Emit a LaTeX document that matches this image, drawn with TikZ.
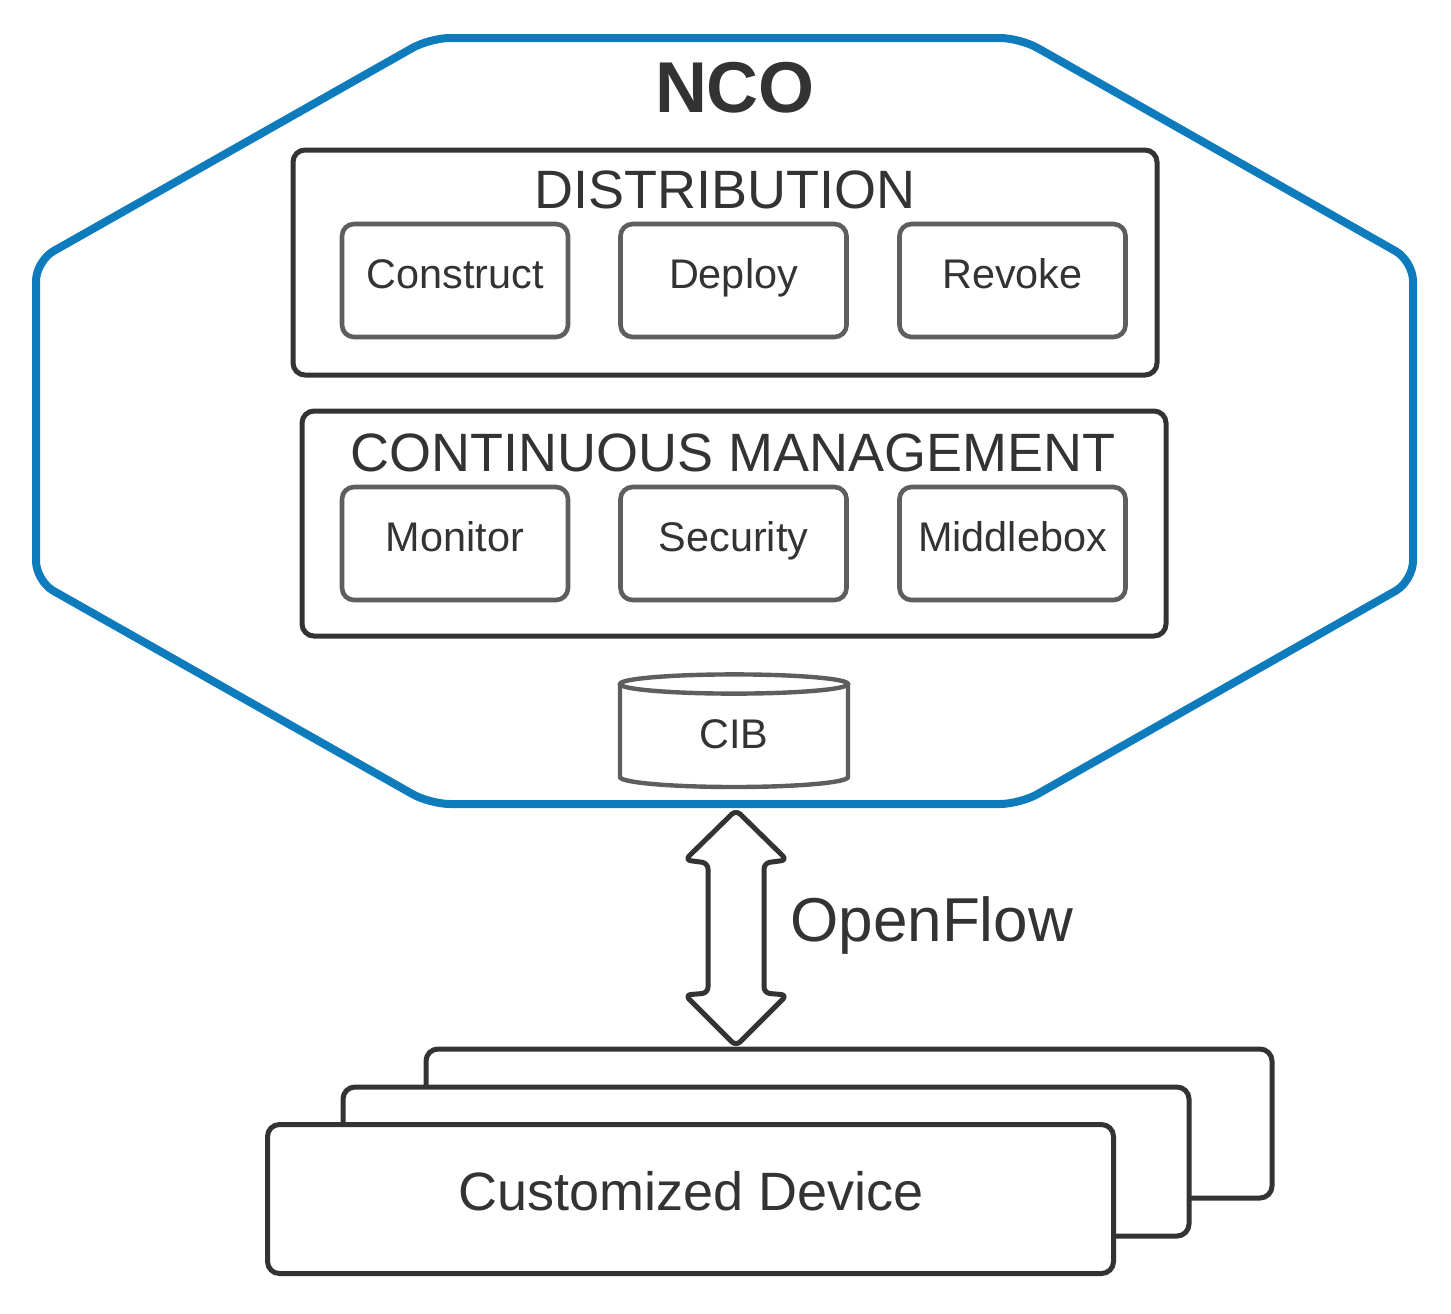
\documentclass[tikz,border=0pt]{standalone}
\usepackage{fontspec}
\setmainfont{Liberation Sans}
\definecolor{ncoblue}{HTML}{0E7CBC}
\definecolor{dk}{HTML}{333333}
\definecolor{gr}{HTML}{5E5E5E}
\begin{document}
\begin{tikzpicture}[x=0.5pt,y=-0.5pt,
  outerbox/.style={draw=dk,line width=2.5pt,rounded corners=6pt,fill=white,minimum width=432pt,minimum height=112.5pt,inner sep=0pt},
  innerbox/.style={draw=gr,line width=2.3pt,rounded corners=6pt,fill=white,minimum width=113pt,minimum height=56.5pt,inner sep=0pt},
  devbox/.style={draw=dk,line width=2.5pt,rounded corners=6pt,fill=white,minimum width=423pt,minimum height=74.5pt,inner sep=0pt},
  lbl/.style={anchor=base,inner sep=0pt,text=dk},
  small/.style={lbl,font=\fontsize{20.7}{24}\selectfont},
  big/.style={lbl,font=\fontsize{27}{30}\selectfont}]
\useasboundingbox (0,0) rectangle (1451,1313);
% NCO octagon
\draw[ncoblue,line width=4pt,rounded corners=10pt,line join=round]
  (430,38) -- (1020,38) -- (1413,261) -- (1413,581) -- (1020,804) -- (430,804) -- (36,581) -- (36,261) -- cycle;
\node[lbl,font=\bfseries\fontsize{36}{40}\selectfont] (nco) at (735,112) {NCO};
% Distribution
\node[outerbox] (dist) at (725,262.5) {};
\node[big] (distl) at (725,208) {DISTRIBUTION};
\node[innerbox] (construct) at (455,280.5) {};
\node[innerbox] (deploy) at (733.5,280.5) {};
\node[innerbox] (revoke) at (1012.5,280.5) {};
\node[small] at (455,288) {Construct};
\node[small] at (733.5,288) {Deploy};
\node[small] at (1012.5,288) {Revoke};
% Continuous management
\node[outerbox] (cm) at (734,523.5) {};
\node[big] (cml) at (733.5,471) {CONTINUOUS MANAGEMENT};
\node[innerbox] (monitor) at (455,543.5) {};
\node[innerbox] (security) at (733.5,543.5) {};
\node[innerbox] (middlebox) at (1012.5,543.5) {};
\node[small] at (455,551) {Monitor};
\node[small] at (733.5,551) {Security};
\node[small] at (1012.5,551) {Middlebox};
% CIB cylinder
\draw[gr,line width=2.2pt,fill=white] (620,684) -- (620,777) arc[start angle=180,end angle=360,x radius=57pt,y radius=5pt] -- (848,684);
\draw[gr,line width=2.2pt,fill=white] (734,684) ellipse[x radius=57pt,y radius=4.8pt];
\node[small] (cib) at (734,748) {CIB};
% OpenFlow double arrow
\coordinate (ofTop) at (736,810);
\coordinate (ofBot) at (736,1046);
\draw[dk,line width=2.5pt,fill=white,rounded corners=3pt,line join=round]
  (ofTop) -- ++(51,50) -- ++(-23,3) -- ++(0,130) -- ++(23,2) -- (ofBot)
  -- ++(-51,-51) -- ++(23,-2) -- ++(0,-130) -- ++(-23,-3) -- cycle;
\node[lbl,anchor=base west,font=\fontsize{31}{36}\selectfont] (of) at (790,941) {OpenFlow};
% Devices
\node[devbox] (dev3) at (849,1123.5) {};
\node[devbox] (dev2) at (766,1161.5) {};
\node[devbox] (dev1) at (690.5,1199) {};
\node[lbl,font=\fontsize{27}{30}\selectfont] at (691,1210) {Customized Device};
\end{tikzpicture}
\end{document}
